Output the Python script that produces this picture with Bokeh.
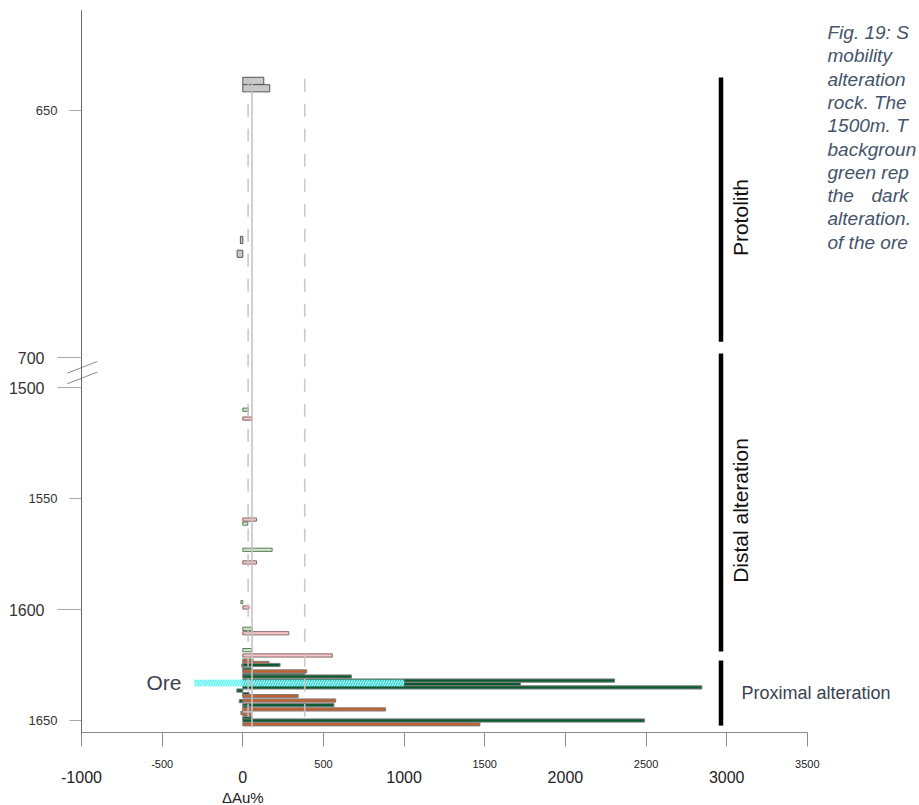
import numpy as np
from bokeh.plotting import figure
from bokeh.models import (Range1d, FixedTicker, Label, ColumnDataSource, LinearAxis,
                          CustomJSTickFormatter)
from bokeh.embed import file_html
from bokeh.resources import INLINE

# ---------------- data: sample depth (m) and change in Au (%) ----------------
proto_depth = [644.0, 645.5, 676.2, 679.0]
proto_au = [130, 167, -15, -35]

distal_lg_depth = [1510.0, 1561.3, 1573.1, 1596.7, 1608.7, 1618.3]
distal_lg_au = [35, 31, 182, -12, 60, 58]
distal_pk_depth = [1514.0, 1559.5, 1578.8, 1599.1, 1610.7, 1620.7]
distal_pk_au = [58, 85, 85, 39, 285, 555]

prox_dg_depth = [1625.0, 1625.3, 1627.0, 1629.6, 1630.2, 1632.0, 1633.6, 1635.1,
                 1636.5, 1638.1, 1641.3, 1643.1, 1644.1, 1649.0, 1650.0]
prox_dg_au = [231, -6, 58, 384, 673, 2305, 1721, 2846, -37, 39, -22, 565, 43, 60, 2490]
prox_or_depth = [1623.0, 1624.1, 1627.9, 1639.0, 1641.0, 1645.0, 1646.6, 1647.3, 1651.7]
prox_or_au = [64, 163, 396, 343, 576, 885, -12, 54, 1470]

ore_depth = 1633.1
ore_au = (-300, 1000)

bg_mean = 57
bg_band = (33, 384)

zones = ["Protolith", "Distal alteration", "Proximal alteration"]
zone_top = [643.3, 1484.7, 1623.0]
zone_bottom = [696.8, 1618.9, 1652.3]

y_major = [700, 1500, 1600]
y_minor = [650, 1550, 1650]
x_major = [-1000, 0, 1000, 2000, 3000]
x_minor = [-500, 500, 1500, 2500, 3500]

caption = ["Fig. 19: S", "mobility", "alteration", "rock. The", "1500m. T",
           "backgroun", "green rep", "the", "alteration.", "of the ore"]
caption_extra = {7: "dark"}

# ---------------- layout / broken depth axis ----------------
W, H = 919, 805
AXIS_X_PX, AXIS_Y_PX = 81, 732      # where the two axes sit on the page
X_SCALE = 0.1613                    # px per % unit
LOWER_PX = 2.22                     # px per metre, 1500-1650 m section
UPPER_PX = 4.94                     # px per metre, 650-700 m section
BREAK_PX = 30                       # gap between 700 m and 1500 m
PX_1500 = 387                       # vertical pixel of the 1500 m tick
GAP = BREAK_PX / LOWER_PX
RATIO = UPPER_PX / LOWER_PX

X0 = -1000 - AXIS_X_PX / X_SCALE
X1 = X0 + W / X_SCALE
Y_TOP = 1500 - PX_1500 / LOWER_PX
Y_BOT = Y_TOP + H / LOWER_PX


def to_plot(depth):
    """Map depth onto the broken axis (upper section stretched, gap after 700 m)."""
    d = np.asarray(depth, dtype=float)
    upper = 1500 - GAP - (700 - d) * RATIO
    return np.where(d < 1000, upper, d)


def px_x(px):
    return X0 + px / X_SCALE


def px_y(py):
    return Y_TOP + py / LOWER_PX


BAR_M = 1.45
UP_H = BAR_M * RATIO
FONT = "Liberation Sans"

p = figure(width=W, height=H, x_range=Range1d(X0, X1), y_range=Range1d(Y_BOT, Y_TOP),
           output_backend="svg", toolbar_location=None,
           min_border_left=0, min_border_right=0, min_border_top=0, min_border_bottom=0)
p.grid.visible = False
p.outline_line_color = None
p.background_fill_color = "white"
p.border_fill_color = "white"


# ---------------- bars ----------------
def bars(depth, au, fill, line, height):
    src = ColumnDataSource(dict(y=to_plot(depth), au=au))
    p.hbar(y="y", left=0, right="au", height=height, source=src,
           fill_color=fill, line_color=line, line_width=1)


bars(proto_depth, proto_au, "#c9c9c9", "#555555", UP_H)
bars(distal_lg_depth, distal_lg_au, "#c8ebc2", "#5e7a5e", BAR_M)
bars(distal_pk_depth, distal_pk_au, "#f6c6c6", "#8a6666", BAR_M)

# proximal samples drawn in depth order so overlapping bars stack like the log
prox_depth = prox_dg_depth + prox_or_depth
prox_au = prox_dg_au + prox_or_au
prox_col = ["#0b5a30"] * len(prox_dg_depth) + ["#c4622d"] * len(prox_or_depth)
order = np.argsort(prox_depth, kind="stable")
psrc = ColumnDataSource(dict(y=to_plot(np.array(prox_depth)[order]),
                             au=np.array(prox_au)[order],
                             c=np.array(prox_col)[order]))
p.hbar(y="y", left=0, right="au", height=BAR_M, source=psrc,
       fill_color="c", line_color="#7d7d7d", line_width=1)

# ore interval marker
p.hbar(y=[float(to_plot(ore_depth))], left=ore_au[0], right=ore_au[1], height=2.9,
       fill_color="#33eeee", fill_alpha=0.78, line_color=None,
       hatch_pattern="/", hatch_color="#c6ffff", hatch_scale=5, hatch_weight=1.2,
       hatch_alpha=0.8)

# background reference lines
all_depth = proto_depth + distal_lg_depth + distal_pk_depth + prox_depth
y0 = float(to_plot(min(all_depth))) - 1.0
y1 = float(to_plot(max(all_depth))) + 1.0
p.segment(x0=[bg_mean], y0=[y0], x1=[bg_mean], y1=[y1],
          line_color="#c4c4c4", line_width=2, line_alpha=0.8)
p.segment(x0=list(bg_band), y0=[y0, y0], x1=list(bg_band), y1=[y1, y1],
          line_color="#c4c4c4", line_width=1.6, line_dash="13 12", line_alpha=0.9)

# zone bars
ZONE_X = px_x(720.5)
p.segment(x0=[ZONE_X] * 3, y0=to_plot(zone_top), x1=[ZONE_X] * 3, y1=to_plot(zone_bottom),
          line_color="black", line_width=4.5, line_cap="butt")

# axis break marks
p.segment(x0=[px_x(66.7)] * 2, y0=[px_y(372.7), px_y(383.3)],
          x1=[px_x(96.7)] * 2, y1=[px_y(361.0), px_y(371.6)],
          line_color="#8c8c8c", line_width=1)

# ---------------- axes ----------------
depth_fmt = CustomJSTickFormatter(
    args=dict(gap=GAP, ratio=RATIO),
    code="if (tick < 1490) { return (700 - (1500 - gap - tick) / ratio).toFixed(0) }"
         " return tick.toFixed(0)")
au_fmt = CustomJSTickFormatter(code="return tick.toFixed(0)")

Y_BOUNDS = (px_y(10), px_y(AXIS_Y_PX))


def style_y(ax, depths, tick_out, size, standoff):
    ax.ticker = FixedTicker(ticks=[float(v) for v in to_plot(depths)])
    ax.formatter = depth_fmt
    ax.fixed_location = -1000
    ax.bounds = Y_BOUNDS
    ax.major_tick_out, ax.major_tick_in = tick_out, 0
    ax.minor_tick_line_color = None
    ax.axis_line_color = "#6a6a6a"
    ax.major_tick_line_color = "#a8a8a8"
    ax.major_label_standoff = standoff
    ax.major_label_text_font = FONT
    ax.major_label_text_font_size = size
    ax.major_label_text_color = "#333333"


style_y(p.yaxis[0], y_minor, 12, "13px", 12)
y_big = LinearAxis()
p.add_layout(y_big, "left")
style_y(y_big, y_major, 24, "16px", 13)


def style_x(ax, ticks, size, standoff):
    ax.ticker = FixedTicker(ticks=ticks)
    ax.formatter = au_fmt
    ax.fixed_location = px_y(AXIS_Y_PX)
    ax.bounds = (-1000, 3500)
    ax.major_tick_out, ax.major_tick_in = 14, 0
    ax.minor_tick_line_color = None
    ax.axis_line_color = "#8c8c8c"
    ax.major_tick_line_color = "#8c8c8c"
    ax.major_label_standoff = standoff
    ax.major_label_text_font = FONT
    ax.major_label_text_font_size = size
    ax.major_label_text_color = "#222222"


style_x(p.xaxis[0], x_minor, "11px", 13)
x_big = LinearAxis()
p.add_layout(x_big, "below")
style_x(x_big, x_major, "16px", 24)

p.add_layout(Label(x=0, y=px_y(797), text="ΔAu%", text_align="center",
                   text_baseline="middle", text_font=FONT, text_font_size="15px",
                   text_color="#222222"))

# zone names
for name, top, bot in zip(zones[:2], zone_top[:2], zone_bottom[:2]):
    mid = (float(to_plot(top)) + float(to_plot(bot))) / 2
    p.add_layout(Label(x=px_x(740), y=mid, y_offset=-8, text=name, angle=np.pi / 2,
                       text_align="center", text_baseline="middle",
                       text_font=FONT, text_font_size="21px", text_color="#111111"))
p.add_layout(Label(x=px_x(741), y=px_y(692), text=zones[2],
                   text_align="left", text_baseline="middle",
                   text_font=FONT, text_font_size="18px", text_color="#3a4252"))

# ore label
p.add_layout(Label(x=px_x(146), y=float(to_plot(ore_depth)), text="Ore",
                   text_align="left", text_baseline="middle",
                   text_font=FONT, text_font_size="21px", text_color="#3a4252"))

# figure caption
CAP_Y0, CAP_DY = 32, 23.3
for i, line in enumerate(caption):
    p.add_layout(Label(x=px_x(827), y=px_y(CAP_Y0 + CAP_DY * i), text=line,
                       text_align="left", text_baseline="middle",
                       text_font=FONT, text_font_style="italic",
                       text_font_size="19px", text_color="#44546a"))
for i, word in caption_extra.items():
    p.add_layout(Label(x=px_x(871), y=px_y(CAP_Y0 + CAP_DY * i), text=word,
                       text_align="left", text_baseline="middle",
                       text_font=FONT, text_font_style="italic",
                       text_font_size="19px", text_color="#44546a"))

open("out.html", "w").write(file_html(p, INLINE))
